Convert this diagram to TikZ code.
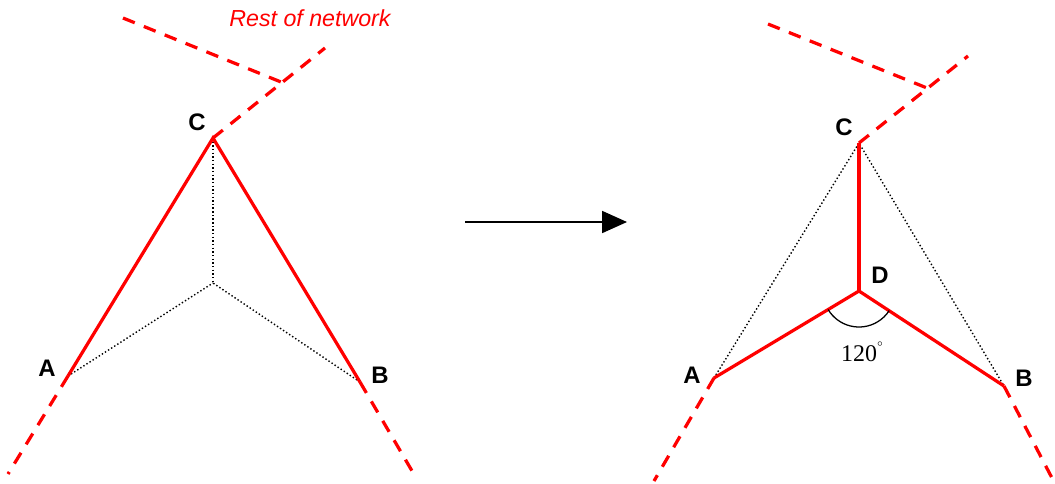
\documentclass[tikz,border=0pt]{standalone}
\usepackage{fontspec}
\setmainfont{Liberation Serif}
\setsansfont{Liberation Sans}
\usetikzlibrary{arrows.meta}

\begin{document}
\begin{tikzpicture}[x=0.025cm, y=-0.025cm]
        \tikzset{
            netline/.style={red, line width=2.3pt},
            restline/.style={red, line width=2.3pt, dash pattern=on 9pt off 7pt},
            helper/.style={black, line width=1pt, dash pattern=on 1pt off 1.6pt},
            pointlabel/.style={font=\sffamily\bfseries\fontsize{17}{19}\selectfont, inner sep=0pt},
            move/.style={-{Triangle[length=0.62cm, width=0.55cm]}, line width=0.9pt}
        }
        \useasboundingbox (0,0) rectangle (1055,483);

        % Nodes (before)
        \coordinate (C1) at (213,138);
        \coordinate (A1) at (68,376);
        \coordinate (B1) at (360,382);
        \coordinate (M1) at (213,283);
        \coordinate (C1out) at (325,48);
        \coordinate (A1out) at (8,474);
        \coordinate (B1out) at (415,476);
        \coordinate (R1s) at (123,18);
        \coordinate (R1e) at (281,82);
        \node[pointlabel] (lC1) at (197,122) {C};
        \node[pointlabel] (lA1) at (47,368) {A};
        \node[pointlabel] (lB1) at (380,375) {B};
        \node[red, font=\sffamily\itshape\fontsize{16.5}{18}\selectfont, inner sep=0pt] (rest) at (310,18) {Rest of network};

        % Nodes (after)
        \coordinate (C2) at (859,143);
        \coordinate (A2) at (714,378);
        \coordinate (B2) at (1004,386);
        \coordinate (D2) at (859,291);
        \coordinate (C2out) at (968,56);
        \coordinate (A2out) at (654,481);
        \coordinate (B2out) at (1052,478);
        \coordinate (R2s) at (768,24);
        \coordinate (R2e) at (927,88);
        \node[pointlabel] (lC2) at (844,127) {C};
        \node[pointlabel] (lD2) at (880,275) {D};
        \node[pointlabel] (lA2) at (692,375) {A};
        \node[pointlabel] (lB2) at (1024,378) {B};
        \node[font=\fontsize{17}{19}\selectfont, inner sep=0pt] (angle) at (862,352) {120\raisebox{0.62em}{\fontsize{7}{7}\selectfont$\circ$}};

        % Arrow
        \coordinate (go) at (465,222);
        \coordinate (stop) at (627,222);
        \draw[move] (go) -- (stop);

        % Edges (before)
        \draw[helper] (C1) -- (M1);
        \draw[helper] (A1) -- (M1);
        \draw[helper] (B1) -- (M1);
        \draw[netline] (A1) -- (C1) -- (B1);
        \draw[restline] (C1) -- (C1out);
        \draw[restline] (A1) -- (A1out);
        \draw[restline] (B1) -- (B1out);
        \draw[restline] (R1s) -- (R1e);

        % Edges (after)
        \draw[helper] (A2) -- (C2) -- (B2);
        \draw[netline] (C2) -- (D2);
        \draw[netline] (A2) -- (D2) -- (B2);
        \draw[restline] (C2) -- (C2out);
        \draw[restline] (A2) -- (A2out);
        \draw[restline] (B2) -- (B2out);
        \draw[restline] (R2s) -- (R2e);
        \draw[line width=0.9pt] ([shift={(149:36)}]D2) arc[start angle=149, end angle=33, radius=36];
    \end{tikzpicture}
\end{document}
